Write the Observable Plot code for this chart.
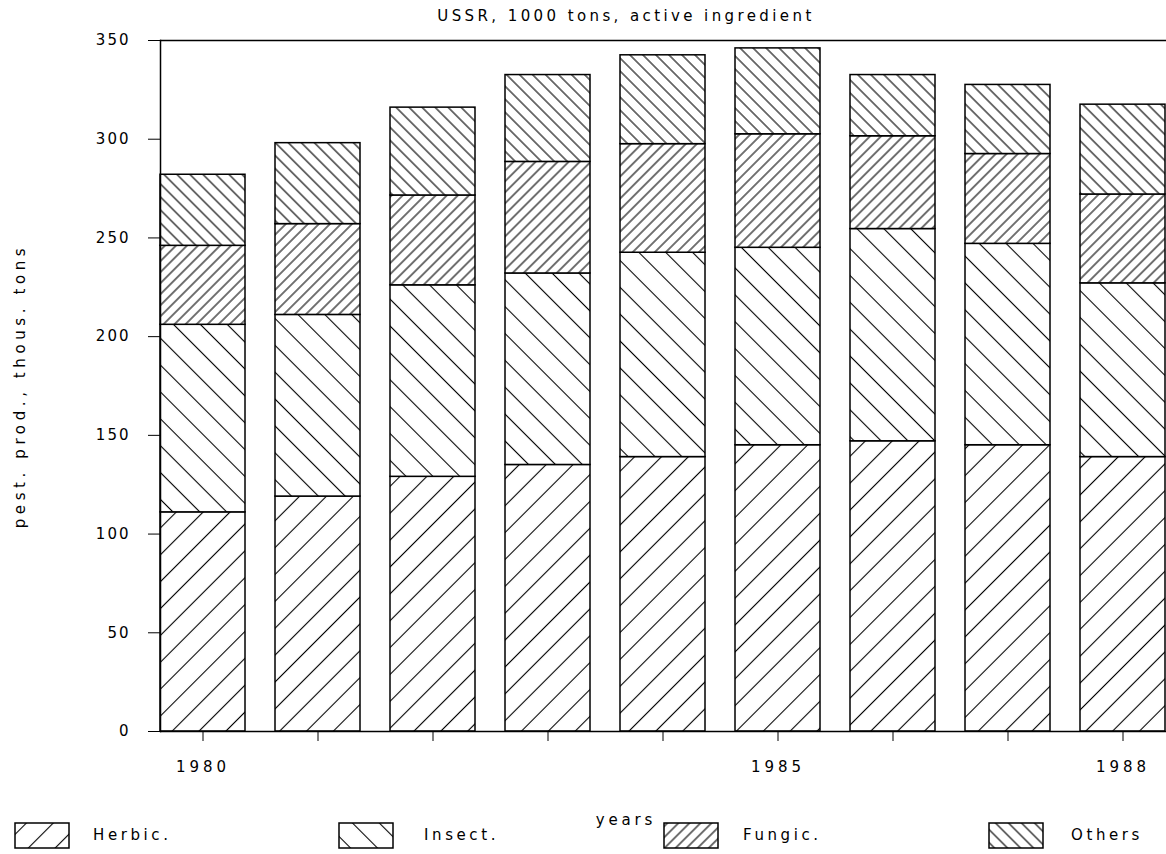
<!DOCTYPE html>
<html>
<head>
<meta charset="utf-8">
<script src="https://cdn.jsdelivr.net/npm/d3@7"></script>
<script src="https://cdn.jsdelivr.net/npm/@observablehq/plot@0.6"></script>
<style>
  html, body { margin: 0; padding: 0; background: #fff; }
  #wrap { position: relative; width: 1166px; height: 854px; font-family: "DejaVu Sans", sans-serif; color: #000; overflow: hidden; }
  #title { position: absolute; left: 0; top: 6px; width: 1252px; text-align: center; font-size: 15px; letter-spacing: 3.4px; line-height: 20px; }
  #chart { position: absolute; left: 0; top: 30px; }
  #xlabel { position: absolute; left: 0; top: 810px; width: 1252px; text-align: center; font-size: 15px; letter-spacing: 3.8px; line-height: 20px; }
  .leg { position: absolute; top: 822px; height: 26px; display: flex; align-items: center; font-size: 15px; letter-spacing: 3.6px; }
  .leg svg { display: block; }
  #chart g[aria-label="y-axis label"] text { letter-spacing: 4.6px; }
  #chart g[aria-label="x-axis tick label"] text { letter-spacing: 4px; }
  #chart g[aria-label="y-axis tick label"] text { letter-spacing: 2px; }
</style>
</head>
<body>
<svg width="0" height="0" style="position:absolute">
  <defs id="pdefs"></defs>
</svg>
<div id="wrap">
  <div id="title"></div>
  <div id="chart"></div>
  <div id="xlabel"></div>
  <div id="legend"></div>
</div>
<script>
// ---- data ----
const years = [1980, 1981, 1982, 1983, 1984, 1985, 1986, 1987, 1988];
const categories = ["Herbic.", "Insect.", "Fungic.", "Others"];
const herbic = [111, 119, 129, 135, 139, 145, 147, 145, 139];
const insect = [95, 92, 97, 97, 103.5, 100, 107.5, 102, 88];
const fungic = [40, 46, 45.5, 56.5, 55, 57.5, 47, 45.5, 45];
const others = [36, 41, 44.5, 44, 45, 43.5, 31, 35, 45.5];
const yTicks = [0, 50, 100, 150, 200, 250, 300, 350];
const xTickLabels = [1980, 1985, 1988];
const titleText = "USSR, 1000 tons, active ingredient";
const yLabel = "pest. prod., thous. tons";
const xLabel = "years";

// ---- hatch patterns (angle, spacing) ----
const patternSpec = [
  {id: "p-herbic", angle: 45, gap: 19},
  {id: "p-insect", angle: -45, gap: 19},
  {id: "p-fungic", angle: 45, gap: 7.8},
  {id: "p-others", angle: -45, gap: 9.2}
];
const defs = d3.select("#pdefs");
for (const p of patternSpec) {
  const pat = defs.append("pattern")
    .attr("id", p.id)
    .attr("patternUnits", "userSpaceOnUse")
    .attr("width", p.gap).attr("height", p.gap)
    .attr("patternTransform", `rotate(${p.angle})`);
  pat.append("rect").attr("width", p.gap).attr("height", p.gap).attr("fill", "white");
  pat.append("line").attr("x1", p.gap / 2).attr("x2", p.gap / 2)
    .attr("y1", 0).attr("y2", p.gap)
    .attr("stroke", "black").attr("stroke-width", 1.1);
}
const fills = patternSpec.map(p => `url(#${p.id})`);

const series = [herbic, insect, fungic, others];
const data = years.flatMap((year, i) =>
  categories.map((cat, k) => ({year, cat, value: series[k][i]})));

const chart = Plot.plot({
  width: 1166,
  height: 770,
  marginTop: 10,
  marginBottom: 69,
  marginLeft: 160,
  marginRight: 0,
  style: {fontFamily: "DejaVu Sans, sans-serif", fontSize: "15px", background: "white", color: "black"},
  x: {
    type: "band", domain: years, paddingInner: 0.265, paddingOuter: 0, align: 0,
    tickSize: 10, tickPadding: 20,
    tickFormat: d => xTickLabels.includes(d) ? String(d) : "",
    label: null
  },
  y: {
    domain: [0, 350], ticks: yTicks, tickSize: 12, tickPadding: 18,
    label: yLabel, labelAnchor: "center", labelOffset: 146, labelArrow: "none"
  },
  color: {domain: categories, range: fills},
  marks: [
    Plot.barY(data, {x: "year", y: "value", fill: "cat", stroke: "black", strokeWidth: 1.5}),
    Plot.ruleY([0], {strokeWidth: 1.5}),
    Plot.ruleY([350], {strokeWidth: 1.3}),
    Plot.frame({anchor: "left", strokeWidth: 1.5})
  ]
});
document.getElementById("chart").appendChild(chart);
document.getElementById("title").textContent = titleText;
document.getElementById("xlabel").textContent = xLabel;

// ---- legend ----
const legendPos = [{left: 14, text: 93}, {left: 338, text: 424}, {left: 663, text: 743}, {left: 988, text: 1071}];
const legend = document.getElementById("legend");
categories.forEach((cat, k) => {
  const sw = document.createElement("div");
  sw.className = "leg";
  sw.style.left = legendPos[k].left + "px";
  sw.innerHTML = `<svg width="56" height="27"><rect x="1" y="1" width="54" height="25" fill="${fills[k]}" stroke="black" stroke-width="1.5"/></svg>`;
  legend.appendChild(sw);
  const tx = document.createElement("div");
  tx.className = "leg";
  tx.style.left = legendPos[k].text + "px";
  tx.textContent = cat;
  legend.appendChild(tx);
});
</script>
</body>
</html>
